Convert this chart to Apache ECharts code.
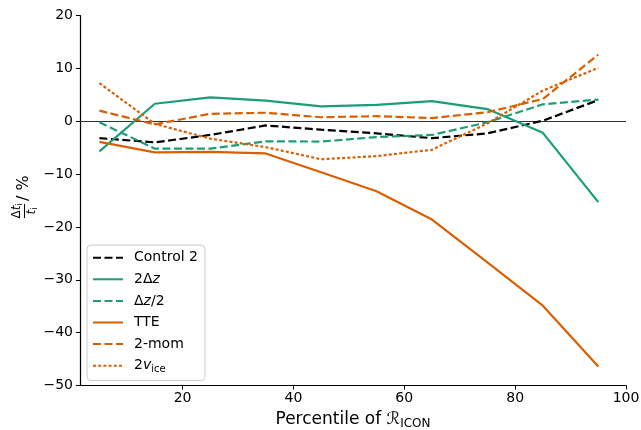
<!DOCTYPE html>
<html>
<head>
<meta charset="utf-8">
<script src="https://cdn.jsdelivr.net/npm/echarts@6/dist/echarts.min.js"></script>
<style>
  html, body { margin: 0; padding: 0; background: #fff; }
  #chart { width: 641px; height: 430px; }
</style>
</head>
<body>
<div id="chart"></div>
<script>
// Percentile bins of the ICON reference field
const percentiles = [5, 15, 25, 35, 45, 55, 65, 75, 85, 95];

// Relative change in time to ice (%) per sensitivity experiment
const control2 = [-3.2, -4.0, -2.6, -0.8, -1.6, -2.3, -3.2, -2.3, 0.1, 4.0];
const dz2x     = [-5.7, 3.3, 4.5, 3.9, 2.8, 3.1, 3.8, 2.3, -2.2, -15.3];
const dzHalf   = [-0.2, -5.2, -5.2, -3.8, -3.85, -3.0, -2.6, -0.2, 3.2, 4.1];
const tte      = [-3.9, -5.9, -5.8, -6.1, -9.65, -13.25, -18.6, -26.7, -34.9, -46.4];
const twoMom   = [2.0, -0.6, 1.4, 1.6, 0.75, 0.95, 0.6, 1.7, 4.2, 12.6];
const vIce2x   = [7.2, -0.5, -3.3, -4.9, -7.2, -6.6, -5.4, -0.4, 5.8, 10.1];

const xTicks = [20, 40, 60, 80, 100];
const yTicks = [-50, -40, -30, -20, -10, 0, 10, 20];

const GREEN = '#1b9e77';
const ORANGE = '#d95f02';
const FONT = 'DejaVu Sans';

const pairs = ys => percentiles.map((x, i) => [x, ys[i]]);
const minus = v => String(v).replace('-', '\u2212');

function lineSeries(name, ys, color, dash, extra) {
  return Object.assign({
    name: name,
    type: 'line',
    data: pairs(ys),
    symbol: 'none',
    lineStyle: { color: color, width: 2.2, type: dash, cap: 'butt' },
    itemStyle: { color: color },
    emphasis: { disabled: true },
    animation: false
  }, extra || {});
}

const DASH = [8, 3.5];
const DOT = [3, 2.2];

const chart = echarts.init(document.getElementById('chart'), null, { renderer: 'canvas' });

chart.setOption({
  backgroundColor: '#fff',
  animation: false,
  grid: { left: 80, right: 15, top: 15.5, bottom: 44.5, containLabel: false, outerBoundsMode: 'none' },
  xAxis: {
    type: 'value',
    min: 1.5,
    max: 100,
    splitLine: { show: false },
    axisLine: { show: true, onZero: false, lineStyle: { color: '#000', width: 1.2 } },
    axisTick: { show: true, length: 4, lineStyle: { color: '#000', width: 1 }, customValues: xTicks },
    axisLabel: { customValues: xTicks, color: '#000', fontFamily: FONT, fontSize: 14, margin: 6 },
    name: 'Percentile of {r|\u211B}{sub|ICON}',
    nameLocation: 'middle',
    nameGap: 24,
    nameTextStyle: {
      color: '#000', fontFamily: FONT, fontSize: 17,
      rich: {
        r: { fontFamily: FONT, fontSize: 17, fontStyle: 'italic', color: '#000' },
        sub: { fontFamily: FONT, fontSize: 12, color: '#000', padding: [8, 0, 0, 0] }
      }
    }
  },
  yAxis: {
    type: 'value',
    min: yTicks[0],
    max: yTicks[yTicks.length - 1],
    interval: 10,
    splitLine: { show: false },
    axisLine: { show: true, onZero: false, lineStyle: { color: '#000', width: 1.2 } },
    axisTick: { show: true, length: 4, lineStyle: { color: '#000', width: 1 } },
    axisLabel: { color: '#000', fontFamily: FONT, fontSize: 14, margin: 7, formatter: v => minus(v) }
  },
  legend: {
    orient: 'vertical',
    left: 87,
    top: 245,
    padding: [5.7, 7, 6.3, 5],
    itemWidth: 30,
    itemHeight: 14,
    itemGap: 7.6,
    backgroundColor: 'rgba(255,255,255,0.85)',
    borderColor: '#cccccc',
    borderWidth: 1,
    borderRadius: 4,
    selectedMode: false,
    itemStyle: { opacity: 0 },
    textStyle: {
      color: '#000', fontFamily: FONT, fontSize: 14, padding: [0, 0, 0, 6],
      rich: {
        i: { fontFamily: FONT, fontSize: 14, fontStyle: 'italic', color: '#000' },
        sub: { fontFamily: FONT, fontSize: 10, color: '#000', padding: [7, 0, 0, 0] }
      }
    },
    formatter: function (name) {
      if (name === '2\u0394z') return '2\u0394{i|z}';
      if (name === '\u0394z/2') return '\u0394{i|z}/2';
      if (name === '2v_ice') return '2{i|v}{sub|ice}';
      return name;
    },
    data: ['Control 2', '2\u0394z', '\u0394z/2', 'TTE', '2-mom', '2v_ice']
  },
  graphic: [
    {
      // y-axis title: Δt_i / t_i  / %
      type: 'group',
      x: 24.5,
      y: 218,
      rotation: Math.PI / 2,
      children: [
        {
          type: 'text',
          x: 7, y: -1,
          style: {
            text: '\u0394{it|t}{sub|i}',
            fontFamily: FONT, fontSize: 12, fill: '#000',
            align: 'center', verticalAlign: 'bottom',
            rich: {
              it: { fontFamily: FONT, fontSize: 12, fontStyle: 'italic' },
              sub: { fontFamily: FONT, fontSize: 8, padding: [5, 0, 0, 0] }
            }
          }
        },
        {
          type: 'line',
          shape: { x1: 0, y1: 0, x2: 14, y2: 0 },
          style: { stroke: '#000', lineWidth: 1 }
        },
        {
          type: 'text',
          x: 7, y: 1,
          style: {
            text: '{it|t}{sub|i}',
            fontFamily: FONT, fontSize: 12, fill: '#000',
            align: 'center', verticalAlign: 'top',
            rich: {
              it: { fontFamily: FONT, fontSize: 12, fontStyle: 'italic' },
              sub: { fontFamily: FONT, fontSize: 8, padding: [5, 0, 0, 0] }
            }
          }
        },
        {
          type: 'text',
          x: 17, y: -1,
          style: {
            text: '/ %',
            fontFamily: FONT, fontSize: 16, fill: '#000',
            align: 'left', verticalAlign: 'middle'
          }
        }
      ]
    }
  ],
  series: [
    lineSeries('Control 2', control2, '#000', DASH, {
      z: 3,
      markLine: {
        silent: true,
        symbol: 'none',
        label: { show: false },
        lineStyle: { color: '#333', width: 1, type: 'solid' },
        data: [{ yAxis: 0 }],
        z: 1
      }
    }),
    lineSeries('2\u0394z', dz2x, GREEN, 'solid'),
    lineSeries('\u0394z/2', dzHalf, GREEN, DASH),
    lineSeries('TTE', tte, ORANGE, 'solid'),
    lineSeries('2-mom', twoMom, ORANGE, DASH),
    lineSeries('2v_ice', vIce2x, ORANGE, DOT)
  ]
});
</script>
</body>
</html>
